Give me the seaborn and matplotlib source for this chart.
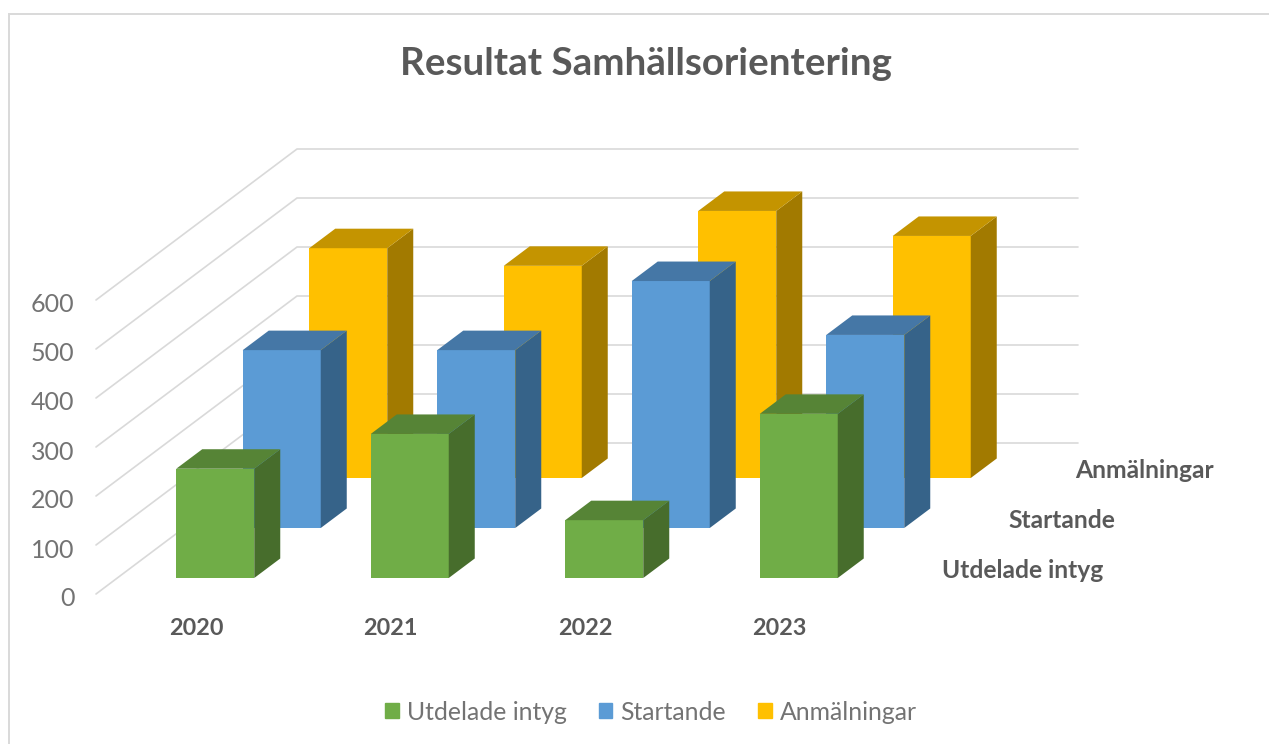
import pandas as pd
import seaborn as sns
import matplotlib.pyplot as plt
from matplotlib.patches import Patch, Polygon, Rectangle
from matplotlib.transforms import ScaledTranslation

years = ['2020', '2021', '2022', '2023']
utdelade = [223, 294, 118, 335]
startande = [363, 363, 504, 394]
anmalningar = [469, 433, 545, 494]
y_ticks = [0, 100, 200, 300, 400, 500, 600]

W, H = 1269, 744
PX_PER_UNIT = 0.49
CAT_STEP = 194.5
BAR_WIDTH = 78 / CAT_STEP
SIDE_DX, SIDE_DY = 26, 19.5
SERIES_DX, SERIES_DY = 66.5, 50

sns.set_theme(style='white')
plt.rcParams['font.family'] = ['Lato', 'DejaVu Sans']


def px_axes(fig, left, bottom, width, height):
    # bottom raknas fran bildens overkant, i pixlar
    ax = fig.add_axes([left / W, 1 - bottom / H, width / W, height / H])
    ax.patch.set_alpha(0)
    sns.despine(ax=ax, left=True, bottom=True)
    return ax


def draw_series(fig, name, values, colors, step):
    front, top, side = colors
    left = 118 + SERIES_DX * step
    base = 578 - SERIES_DY * step
    ax = px_axes(fig, left, base, 4 * CAT_STEP, 600 * PX_PER_UNIT)
    df = pd.DataFrame({'year': years, 'value': values})
    sns.barplot(data=df, x='year', y='value', color=front, saturation=1,
                width=BAR_WIDTH, linewidth=0, ax=ax)
    ax.set_xlim(-0.5, 3.5)
    ax.set_ylim(0, 600)
    ax.set_xlabel('')
    ax.set_ylabel('')
    ax.set_yticks([])
    if step > 0:
        ax.tick_params(axis='x', length=0, labelbottom=False)

    dx = SIDE_DX / CAT_STEP
    dy = SIDE_DY / PX_PER_UNIT
    for bar in list(ax.patches):
        x0, x1 = bar.get_x(), bar.get_x() + bar.get_width()
        h = bar.get_height()
        ax.add_patch(Polygon([(x1, 0), (x1 + dx, dy), (x1 + dx, h + dy), (x1, h)],
                             facecolor=side, linewidth=0, clip_on=False))
        ax.add_patch(Polygon([(x0, h), (x0 + dx, h + dy), (x1 + dx, h + dy), (x1, h)],
                             facecolor=top, linewidth=0, clip_on=False))

    # serienamn pa djupaxeln
    ax.annotate(name, xy=(0, 0), xycoords='axes fraction',
                xytext=(824, 7), textcoords='offset pixels',
                ha='left', va='center', fontsize=17.7, fontweight='bold', color='#595959')
    return ax


fig = plt.figure(figsize=(W / 100, H / 100), dpi=100, facecolor='white')

# ram runt diagrammet
fig.add_artist(Rectangle((9 / W, -0.1), 1.2, 1.1 - 14 / H, transform=fig.transFigure,
                         facecolor='none', edgecolor='#d9d9d9', linewidth=1.4))

# vaggar med rutnat
wall = px_axes(fig, 96, 594, 982, 600 * PX_PER_UNIT)
wall.set_xlim(0, 982)
wall.set_ylim(0, 600)
wall.set_xticks([])
wall.set_yticks(y_ticks)
wall.tick_params(axis='y', length=0, pad=15.5, labelsize=18, labelcolor='#737373')
tick_shift = ScaledTranslation(0, -3 / 100, fig.dpi_scale_trans)
for label in wall.get_yticklabels():
    label.set_transform(label.get_transform() + tick_shift)
rise = 151 / PX_PER_UNIT
for t in y_ticks:
    wall.plot([0, 201, 982], [t, t + rise, t + rise], color='#d9d9d9', linewidth=1.2, clip_on=False)

draw_series(fig, 'Anmälningar', anmalningar, ('#ffc000', '#c49400', '#a27a00'), 2)
draw_series(fig, 'Startande', startande, ('#5b9bd5', '#4577a6', '#366389'), 1)
front_ax = draw_series(fig, 'Utdelade intyg', utdelade, ('#70ad47', '#568436', '#476d2c'), 0)

# ar under de framre staplarna
front_ax.tick_params(axis='x', length=0, pad=29, labelsize=16.8, labelcolor='#595959')
shift = ScaledTranslation(-19 / 100, 0, fig.dpi_scale_trans)
for label in front_ax.get_xticklabels():
    label.set_fontweight('bold')
    label.set_transform(label.get_transform() + shift)

fig.text(646 / W, 1 - 64 / H, 'Resultat Samhällsorientering', ha='center', va='center',
         fontsize=27.7, fontweight='bold', color='#595959')

handles = [Patch(color='#70ad47', label='Utdelade intyg'),
           Patch(color='#5b9bd5', label='Startande'),
           Patch(color='#ffc000', label='Anmälningar')]
fig.legend(handles=handles, loc='center', bbox_to_anchor=(651 / W, 1 - 712 / H), ncol=3,
           frameon=False, fontsize=17.8, labelcolor='#737373', handlelength=0.55,
           handleheight=0.55, handletextpad=0.32, columnspacing=1.3)

fig.savefig('out.png', dpi=100, facecolor='white')
